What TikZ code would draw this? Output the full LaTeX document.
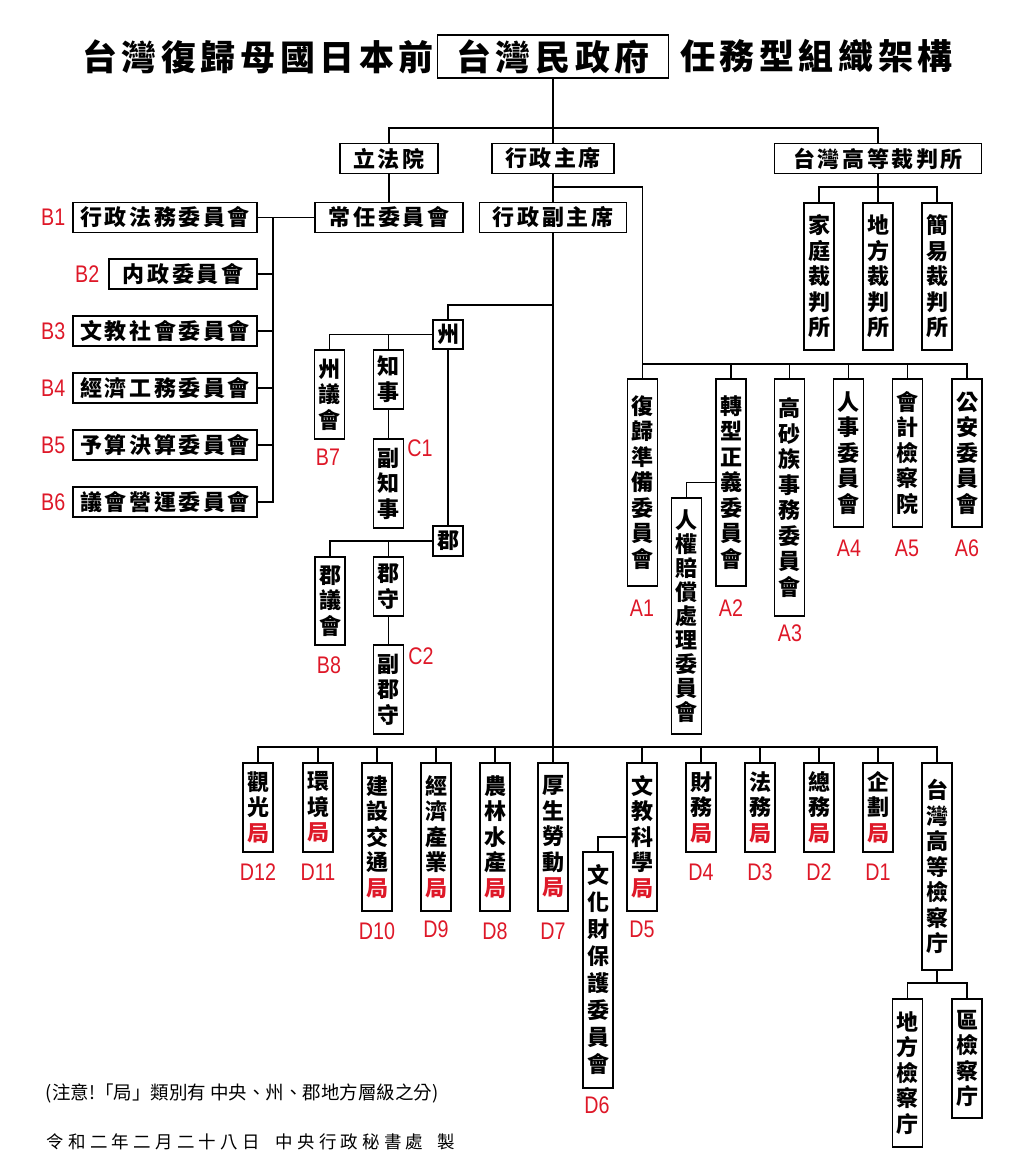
\documentclass[tikz,border=0pt]{standalone}
\usepackage{fontspec}
\usetikzlibrary{positioning}
\setmainfont{Noto Sans CJK TC}
\newfontfamily\cjk{Noto Sans CJK TC}
\newfontfamily\cjkwide{Noto Sans CJK TC}[LetterSpace=12]
\newfontfamily\cjktitle{Noto Sans CJK TC}[LetterSpace=13]
\newfontfamily\cjkdate{Noto Sans CJK TC}[LetterSpace=24]
\newfontfamily\tagfont{Liberation Sans}[FakeStretch=0.82]
\definecolor{labelred}{RGB}{222,24,40}
\newcommand\ju{\textcolor{labelred}{局}}
\begin{document}
\begin{tikzpicture}[x=1pt, y=-1pt, line width=1.8pt,
        hbox/.style={draw, line width=1.8pt, inner sep=0pt, minimum height=30, font=\fontsize{22}{25}\selectfont\cjkwide\bfseries},
        vbox/.style={draw, line width=1.8pt, inner sep=0pt, minimum width=30, align=center, anchor=north, font=\fontsize{22}{25.5}\selectfont\cjk\bfseries},
        titletext/.style={inner sep=0pt, font=\fontsize{35}{40}\selectfont\cjktitle\bfseries},
        tag/.style={inner sep=0pt, text=labelred, font=\fontsize{24}{26}\selectfont\tagfont}]
        \useasboundingbox (0,0) rectangle (1028,1176);
        \node[draw, line width=1.8pt, minimum width=231, minimum height=43, inner sep=0pt, font=\fontsize{35}{40}\selectfont\cjktitle\bfseries] (gov) at (553,56.5) {台灣民政府};
        \node[titletext, left=2pt of gov] (titleL) {台灣復歸母國日本前};
        \node[titletext, right=10pt of gov] (titleR) {任務型組織架構};
        \node[hbox, minimum width=98] (leg) at (389,158.5) {立法院};
        \node[hbox, minimum width=122] (chair) at (553,158.5) {行政主席};
        \node[hbox, minimum width=207] (court) at (878,158.5) {台灣高等裁判所};
        \node[hbox, minimum width=148] (standing) at (389,217.5) {常任委員會};
        \node[hbox, minimum width=147] (vice) at (553,217.5) {行政副主席};
        \node[hbox, minimum width=184] (b1) at (165,217.5) {行政法務委員會};
        \node[hbox, minimum width=148] (b2) at (183,274) {内政委員會};
        \node[hbox, minimum width=184] (b3) at (165,331) {文教社會委員會};
        \node[hbox, minimum width=184] (b4) at (165,388) {經濟工務委員會};
        \node[hbox, minimum width=184] (b5) at (165,445) {予算決算委員會};
        \node[hbox, minimum width=184] (b6) at (165,502) {議會營運委員會};
        \node[tag, left=6pt of b1] (lb1) {B1};
        \node[tag, left=8pt of b2] (lb2) {B2};
        \node[tag, left=6pt of b3] (lb3) {B3};
        \node[tag, left=6pt of b4] (lb4) {B4};
        \node[tag, left=6pt of b5] (lb5) {B5};
        \node[tag, left=6pt of b6] (lb6) {B6};
        \node[vbox, minimum height=147] (fam) at (819,202) {家\\庭\\裁\\判\\所};
        \node[vbox, minimum height=147] (loc) at (878,202) {地\\方\\裁\\判\\所};
        \node[vbox, minimum height=147] (simp) at (937,202) {簡\\易\\裁\\判\\所};
        \node[vbox, minimum width=30, minimum height=29, anchor=center] (zhou) at (448,334.5) {州};
        \node[vbox, minimum width=30, minimum height=30, anchor=center] (jun) at (448,541) {郡};
        \node[vbox, minimum height=89] (zyh) at (329.5,349) {州\\議\\會};
        \node[vbox, minimum height=59] (zs) at (388.5,349) {知\\事};
        \node[vbox, minimum height=89] (fzs) at (388.5,438) {副\\知\\事};
        \node[vbox, minimum height=88] (jyh) at (330,556) {郡\\議\\會};
        \node[vbox, minimum height=59] (js) at (388.5,556) {郡\\守};
        \node[vbox, minimum height=89] (fjs) at (388.5,644) {副\\郡\\守};
        \node[tag] (lb7) at (328,457) {B7};
        \node[tag] (lb8) at (329,665) {B8};
        \node[tag] (lc1) at (420,448) {C1};
        \node[tag] (lc2) at (421,656) {C2};
        \node[vbox, minimum height=207] (a1) at (642.5,378) {復\\歸\\準\\備\\委\\員\\會};
        \node[vbox, minimum height=207] (a2) at (731,378) {轉\\型\\正\\義\\委\\員\\會};
        \node[vbox, minimum height=237] (a3) at (789.5,378) {高\\砂\\族\\事\\務\\委\\員\\會};
        \node[vbox, minimum height=148] (a4) at (848.5,378) {人\\事\\委\\員\\會};
        \node[vbox, minimum height=148] (a5) at (907.5,378) {會\\計\\檢\\察\\院};
        \node[vbox, minimum height=148] (a6) at (967,378) {公\\安\\委\\員\\會};
        \node[vbox, minimum height=236, font=\fontsize{22}{24}\selectfont\cjk\bfseries] (a2s) at (686.5,497) {人\\權\\賠\\償\\處\\理\\委\\員\\會};
        \node[tag] (la1) at (642,608) {A1};
        \node[tag] (la2) at (731,608) {A2};
        \node[tag] (la3) at (790,633) {A3};
        \node[tag] (la4) at (849,548) {A4};
        \node[tag] (la5) at (907,548) {A5};
        \node[tag] (la6) at (967,548) {A6};
        \node[vbox, minimum height=89] (d12) at (258,762) {觀\\光\\\ju};
        \node[vbox, minimum height=89] (d11) at (318,762) {環\\境\\\ju};
        \node[vbox, minimum height=148] (d10) at (377,762) {建\\設\\交\\通\\\ju};
        \node[vbox, minimum height=148] (d9) at (436,762) {經\\濟\\產\\業\\\ju};
        \node[vbox, minimum height=148] (d8) at (495,762) {農\\林\\水\\產\\\ju};
        \node[vbox, minimum height=148] (d7) at (553,762) {厚\\生\\勞\\動\\\ju};
        \node[vbox, minimum height=148] (d5) at (642,762) {文\\教\\科\\學\\\ju};
        \node[vbox, minimum height=89] (d4) at (701,762) {財\\務\\\ju};
        \node[vbox, minimum height=89] (d3) at (760,762) {法\\務\\\ju};
        \node[vbox, minimum height=89] (d2) at (819,762) {總\\務\\\ju};
        \node[vbox, minimum height=89] (d1) at (878,762) {企\\劃\\\ju};
        \node[vbox, minimum height=207] (hp) at (937,762) {台\\灣\\高\\等\\檢\\察\\庁};
        \node[vbox, minimum height=236, font=\fontsize{22}{27}\selectfont\cjk\bfseries] (d6) at (598,851) {文\\化\\財\\保\\護\\委\\員\\會};
        \node[vbox, minimum height=148] (dfj) at (907.5,998) {地\\方\\檢\\察\\庁};
        \node[vbox, minimum height=119] (qj) at (967,998) {區\\檢\\察\\庁};
        \node[tag] (ld12) at (258,872) {D12};
        \node[tag] (ld11) at (318,872) {D11};
        \node[tag] (ld10) at (377,931) {D10};
        \node[tag] (ld9) at (436,929) {D9};
        \node[tag] (ld8) at (495,931) {D8};
        \node[tag] (ld7) at (553,931) {D7};
        \node[tag] (ld5) at (642,929) {D5};
        \node[tag] (ld4) at (701,872) {D4};
        \node[tag] (ld3) at (760,872) {D3};
        \node[tag] (ld2) at (819,872) {D2};
        \node[tag] (ld1) at (878,872) {D1};
        \node[tag] (ld6) at (597,1105) {D6};
        \node[anchor=west, inner sep=0pt, font=\fontsize{18.5}{20}\selectfont\cjk] (note) at (45,1093) {(注意!「局」類別有 中央、州、郡地方層級之分)};
        \node[anchor=west, inner sep=0pt, font=\fontsize{17.5}{20}\selectfont\cjkdate] (date) at (46,1142) {令和二年二月二十八日\hspace{16pt}中央行政秘書處\hspace{14pt}製};
        \coordinate (topbus) at (553,128);
        \coordinate (abranch) at (553,187);
        \coordinate (abus) at (642.5,364);
        \coordinate (zbranch) at (553,305);
        \coordinate (dbus) at (553,747);
        \coordinate (bbus) at (273,217.5);
        \coordinate (cbus) at (878,187);
        \coordinate (pbus) at (937,983);
        \draw (gov) -- (chair);
        \draw (leg.north) |- (topbus) -| (court.north);
        \draw (leg) -- (standing);
        \draw (standing) -- (b1);
        \draw (bbus) |- (b6.east);
        \draw (b2.east) -- (b2.east -| bbus);
        \draw (b3.east) -- (b3.east -| bbus);
        \draw (b4.east) -- (b4.east -| bbus);
        \draw (b5.east) -- (b5.east -| bbus);
        \draw (court) -- (cbus);
        \draw (fam.north) |- (cbus) -| (simp.north);
        \draw (loc.north) -- (loc.north |- cbus);
        \draw (chair) -- (vice);
        \draw (abranch) -| (a1.north);
        \draw (abus) -| (a6.north);
        \draw (a2.north) -- (a2.north |- abus);
        \draw (a3.north) -- (a3.north |- abus);
        \draw (a4.north) -- (a4.north |- abus);
        \draw (a5.north) -- (a5.north |- abus);
        \draw (a2.west) -| (a2s.north);
        \draw (zbranch) -| (zhou.north);
        \draw (zhou) -- (jun);
        \draw (zhou.west) -| (zyh.north);
        \draw (zs.north) -- (zs.north |- zhou.west);
        \draw (zs) -- (fzs);
        \draw (jun.west) -| (jyh.north);
        \draw (js.north) -- (js.north |- jun.west);
        \draw (js) -- (fjs);
        \draw (vice) -- (d7);
        \draw (d12.north) |- (dbus) -| (hp.north);
        \draw (d11.north) -- (d11.north |- dbus);
        \draw (d10.north) -- (d10.north |- dbus);
        \draw (d9.north) -- (d9.north |- dbus);
        \draw (d8.north) -- (d8.north |- dbus);
        \draw (d5.north) -- (d5.north |- dbus);
        \draw (d4.north) -- (d4.north |- dbus);
        \draw (d3.north) -- (d3.north |- dbus);
        \draw (d2.north) -- (d2.north |- dbus);
        \draw (d1.north) -- (d1.north |- dbus);
        \draw (d5.west) -| (d6.north);
        \draw (hp) -- (pbus);
        \draw (dfj.north) |- (pbus) -| (qj.north);
\end{tikzpicture}
\end{document}
